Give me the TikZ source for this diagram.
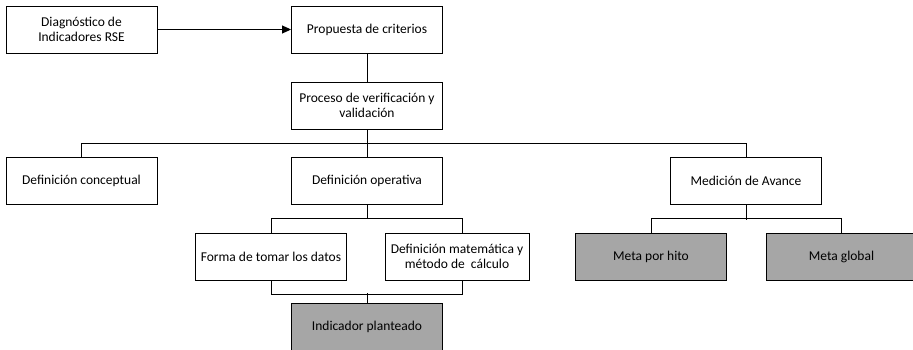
\documentclass[tikz,border=0pt]{standalone}
\usepackage{fontspec}
\setmainfont{Carlito}
\usetikzlibrary{arrows.meta}
\definecolor{metagray}{HTML}{A6A6A6}
\tikzset{
  box/.style={rectangle, draw, minimum width=151pt, minimum height=47pt, inner sep=2pt, align=center, font=\fontsize{13.5pt}{15.5pt}\selectfont},
  goal/.style={box, fill=metagray}
}
\begin{document}
\begin{tikzpicture}[x=1pt, y=-1pt, line width=0.9pt]
  \useasboundingbox (0,0) rectangle (913,350);
  \node[box] (diag) at (81.5,29.5) {Diagnóstico de\\Indicadores RSE};
  \node[box, right of=diag, node distance=285.5pt] (prop) {Propuesta de criterios};
  \node[box, below of=prop, node distance=76pt] (proc) {Proceso de verificación y\\validación};
  \node[box, below of=diag, node distance=151.5pt] (conc) {Definición conceptual};
  \node[box, below of=proc, node distance=75pt] (oper) {Definición operativa};
  \node[box, right of=oper, node distance=379pt] (med) {Medición de Avance};
  \node[box, below of=oper, node distance=76pt, xshift=-96pt] (forma) {Forma de tomar los datos};
  \node[box, right of=forma, node distance=186pt, minimum width=144pt] (mate) {Definición matemática y\\método de \ cálculo};
  \node[goal, below of=oper, node distance=146.5pt] (indic) {Indicador planteado};
  \node[goal, below of=med, node distance=76pt, xshift=-95pt] (hito) {Meta por hito};
  \node[goal, right of=hito, node distance=190.5pt] (global) {Meta global};
  \draw[-{Triangle[length=9pt, width=8pt]}] (diag) -- (prop);
  \draw (prop) -- (proc);
  \draw (proc) -- (oper);
  \draw (conc.north) -- ++(0,-14) -| (med.north);
  % operativa branch
  \draw (oper.south) -- ++(0,15);
  \draw (forma.north) -- ++(0,-14) -| ([xshift=5pt]mate.north);
  \draw (forma.south) -- ++(0,14) -| ([xshift=5pt]mate.south);
  \draw (indic.north) -- ++(0,-10);
  % avance branch
  \draw (med.south) -- ++(0,16);
  \draw (hito.north) -- ++(0,-14) -| (global.north);
\end{tikzpicture}
\end{document}
